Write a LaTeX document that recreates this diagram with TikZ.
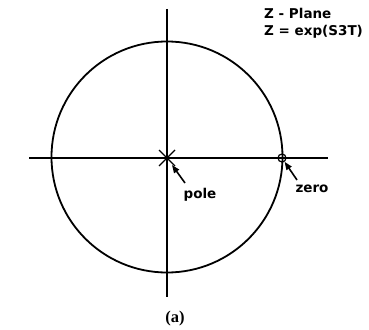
\documentclass[tikz,border=0pt]{standalone}
\usepackage{fontspec}
\setmainfont{Liberation Serif}
\newfontfamily\plotfont{DejaVu Sans}
\usetikzlibrary{arrows.meta}
\begin{document}
\begin{tikzpicture}[x=1pt,y=-1pt,
  axis/.style={line width=1.5pt},
  lbl/.style={font=\plotfont\fontsize{13.5}{15}\selectfont\bfseries, inner sep=0pt},
  ptr/.style={line width=1.6pt,-{Triangle[length=8pt,width=6pt]}}]
\useasboundingbox (0,0) rectangle (369,329);
\coordinate (c) at (167,158);
\coordinate (xl) at (29,158);
\coordinate (xr) at (328,158);
\coordinate (yt) at (167,9);
\coordinate (yb) at (167,297);
\draw[axis] (xl) -- (xr);
\draw[axis] (yt) -- (yb);
\draw[line width=1.8pt] (167,157) circle (115.5);
\node (pole) at (c) {};
\draw[line width=1.3pt] (159,150) -- (175,166) (159,166) -- (175,150);
\node[draw, circle, line width=1.2pt, minimum size=8pt, inner sep=0pt] (zero) at (282,158) {};
\node[lbl] (polet) at (200,195) {pole};
\node[lbl] (zerot) at (312,189) {zero};
\coordinate (pa) at (185,183);
\coordinate (za) at (297,180);
\draw[ptr] (pa) -- (172,165);
\draw[ptr] (za) -- (zero);
\node[lbl, anchor=west] (t1) at (264,13) {Z - Plane};
\node[lbl, anchor=west] (t2) at (264,32) {Z = exp(S3T)};
\node[font=\fontsize{16.5}{18}\selectfont\bfseries, inner sep=0pt] (cap) at (175,319) {(a)};
\end{tikzpicture}
\end{document}
